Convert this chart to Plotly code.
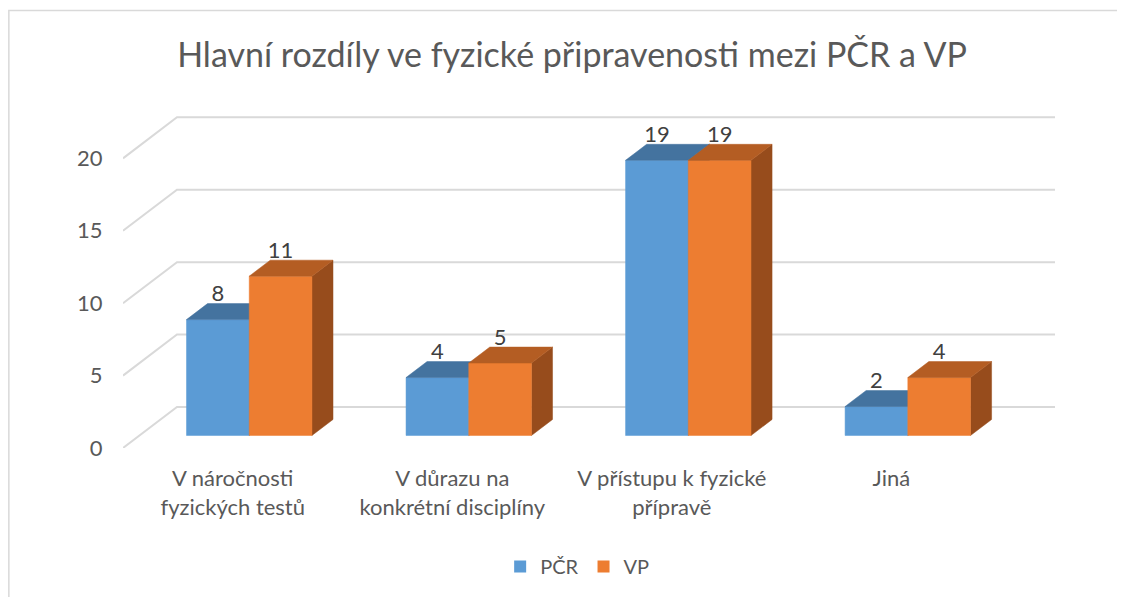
import plotly.graph_objects as go

# ---------------- data ----------------
categories = [
    "V náročnosti<br>fyzických testů",
    "V důrazu na<br>konkrétní disciplíny",
    "V přístupu k fyzické<br>přípravě",
    "Jiná",
]
series_names = ["PČR", "VP"]
pcr_values = [8, 4, 19, 2]
vp_values = [11, 5, 19, 4]
y_ticks = [0, 5, 10, 15, 20]
title_text = "Hlavní rozdíly ve fyzické připravenosti mezi PČR a VP"

# ---------------- style ----------------
FONT = "Lato, 'Open Sans', sans-serif"
TEXT = "#595959"
GRID = "#D9D9D9"
front_colors = ["#5B9BD5", "#ED7D31"]
top_colors = ["#44739F", "#B45D23"]
side_colors = ["#3C6892", "#974C1C"]

OFF = 8  # page body margin in the browser
W, H = 1125, 597
PL, PR, PT, PB = 122.7 - OFF, 1055 - OFF, 100 - OFF, 447.7 - OFF
ML, MR, MT, MB = PL, W - PR, PT, H - PB
plot_w = W - ML - MR
plot_h = H - MT - MB
cat_px = 219.6   # pixels per category
val_px = 14.47   # pixels per value unit
x_range = [-0.5, -0.5 + plot_w / cat_px]
y_range = [0, plot_h / val_px]
DX = 54 / cat_px       # full depth offset (x units)
DY = 41 / val_px       # full depth offset (y units)
D0, D1 = 0.305, 0.695  # bar depth span (fraction of full depth)
bar_w = 1 / 3.5        # gap width 150 %
LABEL_DROP = 3 / val_px


def P(x, v, d):
    return x + d * DX, v + d * DY


fig = go.Figure()

# gridlines (side wall + back wall)
for v in y_ticks:
    a = P(x_range[0], v, 0)
    b = P(x_range[0], v, 1)
    fig.add_trace(go.Scatter(
        x=[a[0], b[0], x_range[1]], y=[a[1], b[1], b[1]],
        mode="lines", line=dict(color=GRID, width=2),
        hoverinfo="skip", showlegend=False))


def poly(pts, color):
    xs = [p[0] for p in pts] + [pts[0][0]]
    ys = [p[1] for p in pts] + [pts[0][1]]
    fig.add_trace(go.Scatter(
        x=xs, y=ys, mode="lines", fill="toself", fillcolor=color,
        line=dict(color=color, width=0.5), hoverinfo="skip", showlegend=False))


all_values = [pcr_values, vp_values]
for i in range(len(categories)):
    for s, vals in enumerate(all_values):
        v = vals[i]
        x0 = i - bar_w + s * bar_w
        x1 = x0 + bar_w
        poly([P(x1, 0, D0), P(x1, 0, D1), P(x1, v, D1), P(x1, v, D0)], side_colors[s])
        poly([P(x0, 0, D0), P(x1, 0, D0), P(x1, v, D0), P(x0, v, D0)], front_colors[s])
        poly([P(x0, v, D0), P(x1, v, D0), P(x1, v, D1), P(x0, v, D1)], top_colors[s])

# data labels
for s, vals in enumerate(all_values):
    xs = [i - bar_w / 2 + s * bar_w + D0 * DX for i in range(len(categories))]
    ys = [v + D1 * DY - LABEL_DROP for v in vals]
    fig.add_trace(go.Scatter(
        x=xs, y=ys, mode="text", text=[str(v) for v in vals],
        textposition="top center",
        textfont=dict(family=FONT, size=22, color="#404040"),
        hoverinfo="skip", showlegend=False))

# legend entries
for s, name in enumerate(series_names):
    fig.add_trace(go.Bar(x=[x_range[0] - 10], y=[1], name=name,
                         marker=dict(color=front_colors[s], line=dict(width=0)),
                         hoverinfo="skip"))


def px_to_paper_x(px):
    return (px - OFF - ML) / plot_w


def py_to_paper_y(py):
    return (H - MB - (py - OFF)) / plot_h


fig.update_layout(
    width=W, height=H,
    margin=dict(l=ML, r=MR, t=MT, b=MB, pad=0),
    paper_bgcolor="white", plot_bgcolor="white",
    barmode="overlay",
    font=dict(family=FONT, color=TEXT, size=22),
    title=dict(text=title_text, x=(572 - OFF) / W, xanchor="center",
               y=1 - (55 - OFF) / H, yanchor="middle", yref="container",
               font=dict(family=FONT, size=34, color=TEXT)),
    xaxis=dict(range=x_range, tickvals=list(range(len(categories))),
               ticktext=categories, showgrid=False, zeroline=False,
               showline=False, ticks="outside", ticklen=11,
               tickcolor="rgba(0,0,0,0)", fixedrange=True,
               tickfont=dict(family=FONT, size=22, color=TEXT)),
    yaxis=dict(range=y_range, tickvals=y_ticks, showgrid=False,
               zeroline=False, showline=False, ticks="outside", ticklen=15,
               tickcolor="rgba(0,0,0,0)", fixedrange=True,
               tickfont=dict(family=FONT, size=22, color=TEXT)),
    legend=dict(orientation="h", x=px_to_paper_x(577), xanchor="center",
                y=py_to_paper_y(566), yanchor="middle",
                font=dict(family=FONT, size=20, color=TEXT),
                itemwidth=30, tracegroupgap=0),
    shapes=[dict(type="rect", xref="paper", yref="paper",
                 x0=px_to_paper_x(8.5), x1=px_to_paper_x(W + 30),
                 y0=py_to_paper_y(H + 30), y1=py_to_paper_y(10.7),
                 line=dict(color=GRID, width=1.5), fillcolor="rgba(0,0,0,0)",
                 layer="below")],
)

fig.write_html("out.html")
